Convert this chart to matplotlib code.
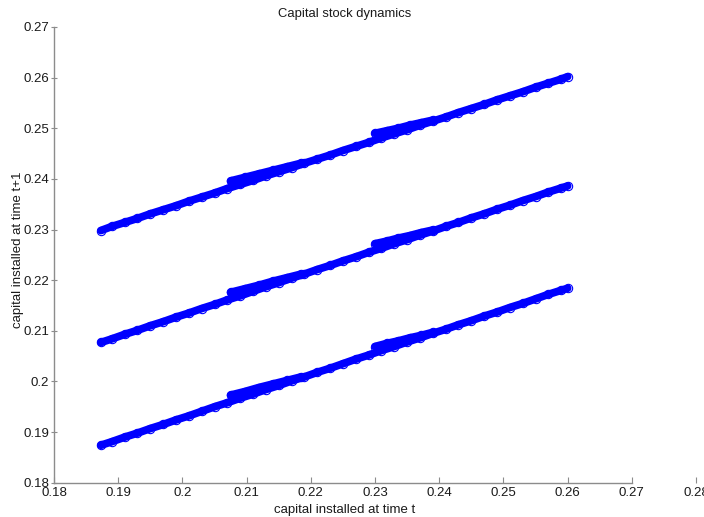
#!/usr/bin/env python3
"""Capital stock dynamics: k(t+1) against k(t) for the three simulated regimes."""

import matplotlib

matplotlib.use("Agg")
import matplotlib.pyplot as plt
from matplotlib.ticker import FormatStrFormatter


# capital installed at time t (shared grid)
capital_t = [
    0.1873, 0.1890, 0.1910, 0.1930, 0.1950, 0.1970, 0.1990, 0.2010, 0.2030,
    0.2050, 0.2070, 0.2090, 0.2110, 0.2130, 0.2150, 0.2170, 0.2190, 0.2210,
    0.2230, 0.2250, 0.2270, 0.2290, 0.2310, 0.2330, 0.2350, 0.2370, 0.2390,
    0.2410, 0.2430, 0.2450, 0.2470, 0.2490, 0.2510, 0.2530, 0.2550, 0.2570,
    0.2590, 0.2600,
]

# capital installed at time t+1, one list per regime (top, middle, bottom band)
capital_next_high = [
    0.2298, 0.2306, 0.2314, 0.2322, 0.2331, 0.2339, 0.2347, 0.2356, 0.2364,
    0.2372, 0.2381, 0.2389, 0.2397, 0.2406, 0.2414, 0.2422, 0.2431, 0.2439,
    0.2447, 0.2456, 0.2464, 0.2472, 0.2481, 0.2489, 0.2497, 0.2506, 0.2514,
    0.2522, 0.2531, 0.2539, 0.2547, 0.2556, 0.2564, 0.2572, 0.2581, 0.2589,
    0.2597, 0.2602,
]
capital_next_mid = [
    0.2077, 0.2084, 0.2093, 0.2101, 0.2110, 0.2118, 0.2127, 0.2135, 0.2144,
    0.2152, 0.2161, 0.2169, 0.2178, 0.2187, 0.2195, 0.2204, 0.2212, 0.2221,
    0.2229, 0.2238, 0.2246, 0.2255, 0.2263, 0.2272, 0.2280, 0.2289, 0.2297,
    0.2306, 0.2314, 0.2323, 0.2331, 0.2340, 0.2348, 0.2357, 0.2365, 0.2374,
    0.2382, 0.2386,
]
capital_next_low = [
    0.1874, 0.1881, 0.1890, 0.1898, 0.1907, 0.1915, 0.1924, 0.1932, 0.1941,
    0.1950, 0.1958, 0.1967, 0.1975, 0.1984, 0.1992, 0.2001, 0.2009, 0.2018,
    0.2026, 0.2035, 0.2044, 0.2052, 0.2061, 0.2069, 0.2078, 0.2086, 0.2095,
    0.2103, 0.2112, 0.2120, 0.2129, 0.2137, 0.2146, 0.2154, 0.2163, 0.2172,
    0.2180, 0.2184,
]

# denser clusters of observations sitting just above each band
cluster_a_t = [0.2075, 0.2097, 0.2119, 0.2141, 0.2163, 0.2185]
cluster_b_t = [0.2300, 0.2318, 0.2336, 0.2354, 0.2372, 0.2390]
cluster_a_high = [0.2396, 0.2403, 0.2410, 0.2417, 0.2424, 0.2431]
cluster_b_high = [0.2490, 0.2495, 0.2500, 0.2506, 0.2511, 0.2516]
cluster_a_mid = [0.2176, 0.2183, 0.2190, 0.2198, 0.2205, 0.2212]
cluster_b_mid = [0.2272, 0.2277, 0.2283, 0.2288, 0.2294, 0.2299]
cluster_a_low = [0.1973, 0.1980, 0.1988, 0.1995, 0.2002, 0.2009]
cluster_b_low = [0.2069, 0.2075, 0.2080, 0.2086, 0.2091, 0.2097]

x_ticks = [0.18, 0.19, 0.20, 0.21, 0.22, 0.23, 0.24, 0.25, 0.26, 0.27, 0.28]
y_ticks = [0.18, 0.19, 0.20, 0.21, 0.22, 0.23, 0.24, 0.25, 0.26, 0.27]

BLUE = "#0000ff"
SPINE_GREY = "#8c8c8c"
TEXT = "#1a1a1a"


def draw_band(ax, xs, ys):
    # thousands of overlapping circles in the original -> thick band with hollow circles on top
    ax.plot(xs, ys, color=BLUE, lw=5.6, solid_capstyle="round", zorder=2)
    ax.plot(xs, ys, ls="none", marker="o", ms=6.0, mfc="none", mec=BLUE,
            mew=0.8, zorder=3)


def main() -> None:
    plt.rcParams["font.family"] = ["Liberation Sans", "DejaVu Sans"]
    plt.rcParams["font.size"] = 9.5

    fig = plt.figure(figsize=(7.04, 5.17), dpi=100)
    ax = fig.add_axes([0.0767, 0.0663, 0.912, 0.8815])

    for xs, ys in ((cluster_a_t, cluster_a_high), (cluster_b_t, cluster_b_high),
                   (cluster_a_t, cluster_a_mid), (cluster_b_t, cluster_b_mid),
                   (cluster_a_t, cluster_a_low), (cluster_b_t, cluster_b_low)):
        draw_band(ax, xs, ys)
    for ys in (capital_next_high, capital_next_mid, capital_next_low):
        draw_band(ax, capital_t, ys)

    ax.set_xlim(0.18, 0.28)
    ax.set_ylim(0.18, 0.27)
    ax.set_xticks(x_ticks)
    ax.set_yticks(y_ticks)
    ax.xaxis.set_major_formatter(FormatStrFormatter("%g"))
    ax.yaxis.set_major_formatter(FormatStrFormatter("%g"))

    for side in ("top", "right"):
        ax.spines[side].set_visible(False)
    for side in ("left", "bottom"):
        ax.spines[side].set_color(SPINE_GREY)
        ax.spines[side].set_linewidth(1.0)
    ax.spines["bottom"].set_bounds(0.18, 0.27)

    ax.tick_params(axis="x", direction="in", length=4, width=0.8, color=SPINE_GREY,
                   labelcolor=TEXT, labelsize=9.5, pad=3)
    ax.tick_params(axis="y", direction="inout", length=5, width=0.8, color=SPINE_GREY,
                   labelcolor=TEXT, labelsize=9.5, pad=1)

    fig.text(0.49, 0.973, "Capital stock dynamics", ha="center", va="center",
             fontsize=9.4, color=TEXT)
    fig.text(0.49, 0.0135, "capital installed at time t", ha="center", va="center",
             fontsize=9.5, color=TEXT)
    fig.text(0.026, 0.516, "capital installed at time t+1", ha="center", va="center",
             rotation=90, fontsize=9.5, color=TEXT)

    fig.savefig("out.png", dpi=100)
    plt.close(fig)


if __name__ == "__main__":
    main()
